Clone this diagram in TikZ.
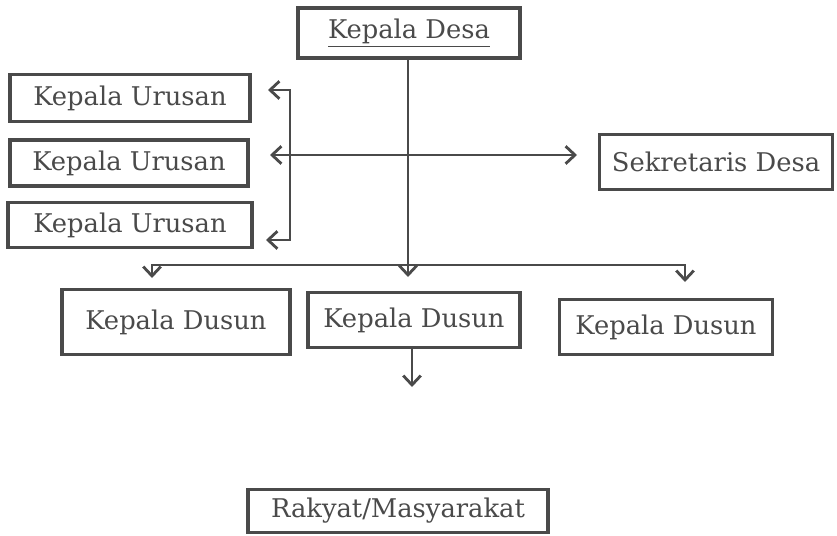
\documentclass[tikz,border=0pt]{standalone}
\usepackage{fontspec}
\setmainfont{DejaVu Serif}
\usetikzlibrary{arrows.meta, positioning}
\definecolor{ink}{HTML}{4A4A4A}
\tikzset{
  kotak/.style={draw=ink, line width=2.8pt, text=ink, inner sep=0pt,
    font=\fontsize{22}{26}\selectfont},
  ujung/.tip={Straight Barb[length=8pt,width=15pt,line width=2.4pt]},
  panah/.style={draw=ink, line width=2.2pt, -ujung},
}
\begin{document}
\begin{tikzpicture}[x=0.03cm,y=-0.03cm]
        \useasboundingbox (0,0) rectangle (837,536);
        \node[kotak, minimum width=222*0.03cm, minimum height=50*0.03cm] (desa) at (409,33) {\underline{Kepala Desa}};
        \node[kotak, minimum width=240*0.03cm, minimum height=47*0.03cm] (urusan1) at (130,98) {Kepala Urusan};
        \node[kotak, minimum width=238*0.03cm, minimum height=46*0.03cm] (urusan2) at (129,163) {Kepala Urusan};
        \node[kotak, minimum width=244*0.03cm, minimum height=45*0.03cm] (urusan3) at (130,225) {Kepala Urusan};
        \node[kotak, minimum width=233*0.03cm, minimum height=55*0.03cm] (sekdes) at (716,162) {Sekretaris Desa};
        \node[kotak, minimum width=228*0.03cm, minimum height=65*0.03cm] (dusun1) at (176,322) {Kepala Dusun};
        \node[kotak, minimum width=212*0.03cm, minimum height=55*0.03cm] (dusun2) at (414,320) {Kepala Dusun};
        \node[kotak, minimum width=213*0.03cm, minimum height=55*0.03cm] (dusun3) at (666,327) {Kepala Dusun};
        \node[kotak, minimum width=300*0.03cm, minimum height=43*0.03cm] (rakyat) at (398,511) {Rakyat/Masyarakat};
        \coordinate (busM) at (408,265);
        \coordinate (tipM) at (408,277);
        \coordinate (busL) at (152,265);
        \coordinate (tipL) at (152,278);
        \coordinate (busR) at (685,265);
        \coordinate (tipR) at (685,282);
        \coordinate (brT) at (290,90);
        \coordinate (brB) at (290,240);
        \coordinate (tipT) at (268,90);
        \coordinate (tipB) at (266,240);
        \coordinate (tipU) at (270,155);
        \coordinate (tipS) at (577,155);
        \coordinate (tipD) at (412,387);
        \draw[panah] (desa.south -| busM) -- (tipM);
        \draw[panah] (busM) -- (busL) -- (tipL);
        \draw[panah] (busM) -- (busR) -- (tipR);
        \draw[panah, ujung-ujung] (tipT) -- (brT) -- (brB) -- (tipB);
        \draw[panah, ujung-ujung] (tipU) -- (tipS);
        \draw[panah] (dusun2.south -| tipD) -- (tipD);
    \end{tikzpicture}
\end{document}
